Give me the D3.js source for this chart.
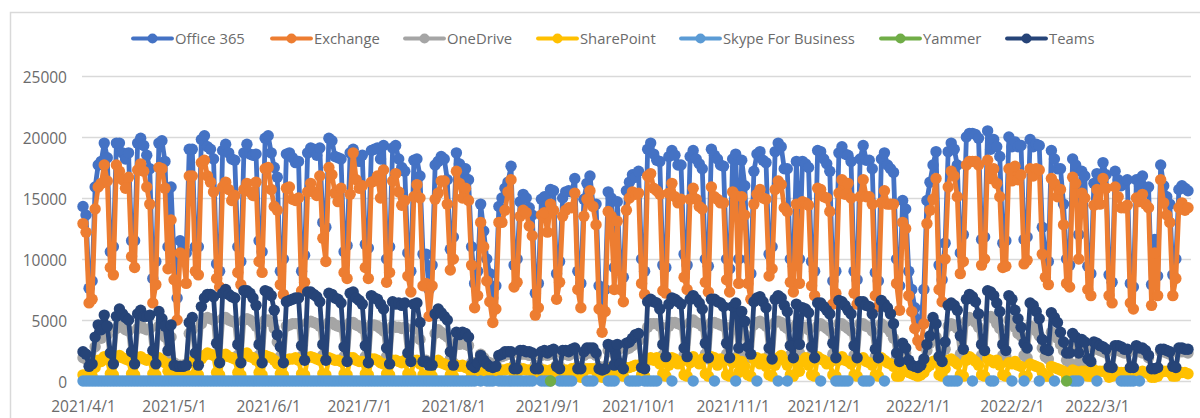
<!DOCTYPE html>
<html>
<head>
<meta charset="utf-8">
<script src="https://cdn.jsdelivr.net/npm/d3@7"></script>
<style>
  html, body { margin: 0; padding: 0; background: #fff; overflow: hidden; }
  text { font-family: "Open Sans", "Noto Sans", sans-serif; fill: #6b6b6b; }
</style>
</head>
<body>
<div id="container"></div>
<script>
// daily values from 2021/4/1, first row is Thu-Sun, then one row per Mon-Sun week
const startDate = '2021-04-01'
const yTicks = [0, 5000, 10000, 15000, 20000, 25000]
const xTicks = ['2021-04-01', '2021-05-01', '2021-06-01', '2021-07-01', '2021-08-01', '2021-09-01',
  '2021-10-01', '2021-11-01', '2021-12-01', '2022-01-01', '2022-02-01', '2022-03-01']

const office365 = [14300,13600,7600,8200,
  15900,17700,18000,19500,18300,10600,11000,
  19500,19500,18700,18200,18700,11500,11500,
  19500,19900,19300,18500,17400,8400,9800,
  19500,19700,18000,11000,15900,10000,6800,
  11500,11300,10500,19000,19000,11000,11000,
  19800,20100,19200,19000,18200,9600,9000,
  18900,19400,18700,18200,18100,11000,9800,
  18700,19400,18600,18500,18600,11500,10600,
  19900,20100,18700,17500,16700,9000,10000,
  18600,18700,18300,17900,18000,9000,10300,
  18700,19100,19000,18500,19100,13000,12600,
  19900,19700,18400,18300,18200,10600,11100,
  18700,19000,18400,18000,18500,11200,10900,
  18900,19000,19100,18200,19300,10000,11000,
  19100,19300,18200,17500,17200,10500,9000,
  18100,18200,16800,10400,10400,7500,9500,
  17700,18000,18400,18200,16500,10800,11800,
  18700,17800,16800,17400,16500,11000,8000,
  9000,14500,12300,10000,8800,6800,7800,
  14300,15000,15800,16300,17600,9500,10000,
  14700,15300,15000,14200,13600,7200,8000,
  14900,15100,14400,15700,15600,8800,9800,
  15000,15500,15600,15500,16600,9000,8000,
  14900,16200,16800,14500,14500,7800,6000,
  7500,15500,15000,9300,14700,9200,8500,
  15600,16300,16900,16700,17200,10000,9000,
  19000,19500,18600,18100,18000,9500,9300,
  18400,18900,18500,17700,17700,10400,9500,
  18400,18900,18200,17800,17400,10000,9400,
  19000,18500,18200,17700,17600,10000,9200,
  18200,18600,10000,18100,16000,10000,8800,
  17200,18600,18800,18100,17900,10400,11000,
  18800,19500,19200,17400,17400,10000,9400,
  18000,10000,18000,17800,17500,9800,9000,
  18900,18800,18200,17800,17200,8200,9000,
  18700,19200,18600,18500,18000,9000,8300,
  18200,19300,18100,18100,17400,8900,8200,
  18200,18700,17700,17400,17100,10000,7800,
  14800,14100,9000,7500,6000,5000,4700,
  7500,14800,16300,17700,18800,9500,8300,
  11300,18800,19500,19000,17700,10500,12000,
  20000,20300,20300,20200,19900,11600,11800,
  20500,19000,19800,19200,18400,11300,11500,
  20000,19200,19600,19200,19300,11600,11800,
  19800,19200,19400,19300,12600,10500,9800,
  18900,18200,17400,17400,14500,10000,9500,
  18200,17700,12000,17200,16800,9400,8800,
  16200,17000,16200,17900,16900,8700,8100,
  17200,16500,16000,16200,16500,8000,7700,
  16500,16000,16800,15500,15900,7900,11600,
  8600,17700,16000,15100,14500,8700,10000,
  15700,16000,15800,15600]

const exchange = [12900,12200,6400,6700,
  14100,15900,16200,17700,16400,9300,8700,
  17700,17200,16500,15800,16700,10200,9300,
  17300,17800,17200,15900,14500,6400,7900,
  17500,17400,15800,9200,13200,8300,5000,
  10500,10300,8000,16800,16800,9000,8700,
  17900,18100,16800,16300,15500,8400,7700,
  15900,16300,15700,14800,15200,8900,7900,
  15700,16200,15500,15200,16300,9800,8900,
  17400,17500,15700,14300,14000,7900,7100,
  15800,15900,14900,14800,15000,7400,8100,
  15500,16200,15500,15200,16800,11700,9800,
  17500,16900,15400,14700,15800,8900,8400,
  15300,18700,16500,15800,16000,9300,8400,
  16300,16400,16800,15000,17300,8100,8900,
  16400,17000,15500,14400,14800,8600,7300,
  15100,16100,15000,7800,8000,5300,7800,
  14900,15400,16400,16400,14500,9100,10000,
  17200,16200,15000,15800,14800,9500,6000,
  7000,13000,11000,8200,6500,4800,5900,
  13000,13000,14000,15500,16500,7700,8100,
  13500,14000,13800,12700,11900,5400,6000,
  13600,13800,12200,14500,14000,6700,8100,
  13500,14000,14200,14200,15400,7500,6000,
  13500,14900,15600,14300,12800,5900,4000,
  5700,13900,13500,7500,13100,7500,6500,
  14000,15000,15500,15300,15400,8000,7100,
  16800,17000,15800,15600,15300,7400,7200,
  15400,16200,15100,14600,14900,8500,7500,
  14900,15800,14900,14300,14100,8100,7300,
  15900,15100,14900,14600,14600,8300,7300,
  15500,15200,8000,15100,13600,8000,6700,
  14500,15300,15700,15000,14900,8600,9200,
  15700,16400,16100,14200,13900,8100,7300,
  14500,8000,14700,14600,14400,7800,7000,
  15800,15700,15100,15000,13900,6300,7200,
  15400,16500,15300,16200,15000,7200,6300,
  15100,16500,15100,15100,14500,7000,6100,
  14600,15600,14500,14500,14500,8000,5800,
  13000,12500,7000,5700,4300,3300,2900,
  4700,12900,14000,14900,16600,7500,6500,
  10000,15900,17200,16800,15100,8800,9800,
  17700,18000,18000,18000,17700,9500,10000,
  18100,16600,17400,16200,15100,9300,9400,
  17400,16400,17600,16500,16900,9600,9900,
  17400,16800,17400,17300,10400,8500,7900,
  16600,16200,15100,15700,12800,8000,7700,
  16700,16200,10000,15400,15000,7500,7000,
  14400,15700,14500,16600,15800,7000,6400,
  15900,15100,14200,14200,14400,6400,5900,
  15000,14700,15300,14500,14200,6200,10500,
  7000,16500,14600,13600,13000,7000,8400,
  14200,14600,14000,14200]

const oneDrive = [1900,1800,1500,1500,
  2800,3600,3500,4200,3800,1900,1600,
  4300,4700,4400,4200,4100,1900,1600,
  4300,4600,4300,4200,4300,1900,1600,
  4500,4200,3600,2000,3600,1500,1300,
  1300,1300,1400,3900,4200,1900,1600,
  4700,5100,5200,5100,5000,2100,1700,
  5100,5200,5000,4900,4800,2100,1700,
  5000,5100,5000,4800,4500,2100,1700,
  5000,5000,4800,4300,3200,2000,1700,
  4500,4600,4700,4700,4700,2000,1800,
  4800,4900,4800,4700,4500,2100,1800,
  4800,4800,4600,4500,4400,2000,1700,
  4800,4800,4600,4500,4300,2000,1700,
  4600,4600,4500,4300,4100,2000,1700,
  4500,4400,4400,4300,4400,1900,1800,
  4300,4300,3400,1700,1700,1500,1500,
  3900,4200,4000,3800,3600,1800,1500,
  3100,3000,3100,3000,2900,1500,1400,
  1600,2200,1900,1600,1500,1400,1400,
  2000,2000,2100,2200,2200,1300,1200,
  2200,2200,2200,2100,2100,1300,1200,
  2100,2200,2100,2200,2300,1300,1200,
  2200,2200,2100,2300,2300,1200,1200,
  2100,2300,2300,2300,2100,1200,1100,
  1200,2500,2400,1400,2500,1400,1200,
  2600,2700,2900,3100,3300,1400,1300,
  4400,4700,4700,4700,4500,2100,1800,
  4500,4800,4800,4700,4600,2100,1800,
  4800,5000,4800,4700,4500,2200,1800,
  4800,4800,4700,4600,4500,2200,1800,
  4500,4700,2200,4300,3800,2100,1900,
  4600,4800,4900,4700,4500,2100,1700,
  4800,4900,4800,4500,4300,2100,1700,
  4600,2300,4400,4400,4200,2100,1700,
  4500,4700,4500,4300,4100,2200,1700,
  4700,4700,4500,4300,4100,2100,1700,
  4700,4700,4500,4400,4100,2000,1700,
  4700,4500,4300,4000,3500,1900,1500,
  2700,2300,1600,1200,1100,1000,1100,
  1500,2500,3100,3900,3600,1800,1500,
  2600,4500,4700,4600,4300,2200,1900,
  4900,5200,5100,4800,4400,2100,2000,
  5300,5300,5100,4700,4300,2100,2000,
  5000,4800,4400,3900,3700,2100,1900,
  4500,4400,4100,3700,2700,2000,1800,
  4000,3800,3500,3000,2500,1700,1500,
  3000,2700,1500,2600,2600,1500,1400,
  2700,2600,2500,2400,2300,1000,1000,
  2500,2500,2400,2300,2300,900,1000,
  2500,2400,2300,2300,1900,900,1000,
  1000,2400,2400,2300,2200,1000,1000,
  2400,2400,2400,2300]

const sharePoint = [500,500,400,400,
  1100,1700,1600,2000,1800,600,500,
  1900,2100,1900,1800,1700,600,500,
  1900,2000,1800,1700,1800,600,500,
  1900,1700,1500,800,1400,500,400,
  400,400,500,1500,1600,600,500,
  1800,2100,2300,2200,2100,700,500,
  2000,2200,2000,1900,1800,700,500,
  2200,2300,2000,1900,1700,700,500,
  2100,2000,1900,1700,1400,600,500,
  1700,1800,1800,1900,1700,600,500,
  1900,2000,1900,1800,1700,600,500,
  1900,1800,1700,1700,1600,600,500,
  1900,1900,1700,1600,1600,600,500,
  1800,1800,1700,1500,1400,600,500,
  1700,1700,1600,1500,1700,600,500,
  1600,1700,1400,500,500,400,400,
  1500,1700,1500,1400,1300,500,400,
  1300,1200,1300,1100,1000,400,400,
  500,900,800,600,500,400,400,
  800,900,900,1000,1000,400,300,
  900,1000,900,900,800,400,300,
  900,900,800,900,1000,400,300,
  900,900,800,1000,1000,400,300,
  800,1000,1000,1000,800,400,300,
  400,1000,1000,500,1100,500,400,
  1100,1100,1200,1300,1300,500,400,
  1800,1900,1700,1900,1400,600,400,
  1300,1900,1800,1400,1600,500,400,
  1500,2000,1700,1400,1800,600,400,
  2000,1900,1300,1800,1600,500,400,
  1500,1800,700,1600,1200,500,400,
  1800,1900,1400,1800,1200,500,400,
  1300,1900,2100,1700,1300,500,400,
  1700,800,1600,1900,1300,500,400,
  2000,1800,1700,1400,1500,500,400,
  1700,2000,1700,1600,1400,500,400,
  1800,1900,1600,1500,1300,500,400,
  1900,1700,1500,1400,1200,400,400,
  1000,900,700,600,500,400,500,
  700,1100,1300,1600,1700,500,400,
  1000,1700,1800,1600,1400,500,400,
  1700,2000,1800,1600,1300,500,400,
  1800,1700,1500,1700,1300,500,400,
  1500,1400,1600,1300,1200,400,400,
  1400,1300,1200,1100,700,400,400,
  1200,1100,1000,900,800,400,400,
  900,800,500,800,800,400,400,
  900,800,800,800,700,300,400,
  800,700,700,700,700,300,300,
  700,700,800,700,600,300,300,
  400,700,800,800,700,400,400,
  700,700,700,600]

// days with a Skype reading, as [first, last] day numbers
const skypeRuns = [[0, 129], [131, 131], [133, 135], [137, 142], [143, 148], [151, 154], [157, 161],
  [166, 168], [173, 175], [180, 183], [185, 189], [194, 194], [201, 201], [208, 208], [215, 215],
  [222, 222], [229, 229], [232, 232], [243, 243], [248, 252], [257, 259], [264, 264], [285, 288],
  [293, 293], [299, 300], [306, 306], [310, 310], [315, 315], [320, 320], [326, 328], [334, 334],
  [342, 346], [348, 348]]
const yammerDays = [154, 324]

const teams = [2400,2200,1200,1400,
  3600,4600,4200,5400,4500,2300,1400,
  5300,5900,5500,5200,5000,2400,1400,
  5500,5800,5300,5300,5400,2500,1400,
  5700,5100,4500,2500,4600,1300,1200,
  1200,1200,1300,4800,5200,2300,1300,
  6100,6800,7100,7100,6900,3100,1500,
  7200,7500,7100,6900,6800,3000,1500,
  7400,7400,7200,6800,6200,3000,1500,
  7400,7300,7000,5800,3800,2800,1500,
  6500,6600,6700,6800,6800,2900,1700,
  7300,7300,7100,6900,6500,3000,1700,
  7200,7100,6800,6700,6400,2800,1600,
  7200,7300,6800,6600,6300,2900,1500,
  7000,6800,6700,6300,5900,2700,1400,
  6500,6300,6400,6200,6400,2300,1600,
  6300,6400,4800,1600,1600,1300,1300,
  5500,5900,5600,5300,5000,2400,1300,
  4000,3800,4000,3900,3600,1300,1100,
  1500,2100,1700,1400,1200,1100,1200,
  2100,2200,2400,2400,2400,1000,1000,
  2500,2500,2400,2400,2300,1000,1000,
  2400,2500,2300,2500,2600,1200,1000,
  2500,2500,2400,2600,2700,1000,1000,
  2400,2700,2700,2700,2300,1000,900,
  1000,3000,2900,1300,3000,1400,1000,
  3100,3200,3500,3800,3900,1100,1000,
  6500,6700,6500,6400,5900,3000,2000,
  6300,6800,6700,6500,6300,2700,2000,
  6700,7000,6700,6400,5900,3100,1900,
  6700,6700,6500,6400,6100,3100,1900,
  6100,6400,2700,5700,4900,2800,2200,
  6500,6800,6900,6500,6000,2700,1800,
  6700,7000,6800,6200,5700,2900,1900,
  6300,3000,6000,5900,5600,2800,1900,
  6400,6400,6100,5800,5500,3100,1900,
  6600,6500,6200,5800,5500,2900,1900,
  6500,6500,6200,6100,5500,2600,1900,
  6600,6300,6000,5500,4700,2300,1600,
  3100,2700,1700,1300,1200,1100,1300,
  1800,3000,3700,5200,4700,2000,1600,
  3200,6200,6400,6200,5800,3700,2600,
  6700,7100,6900,6500,5500,3000,2500,
  7400,7300,7000,6400,5700,3000,2500,
  7000,6700,5800,5100,4400,3100,2700,
  6400,6200,5700,5100,3400,2600,2500,
  5600,5200,4800,4000,3200,2300,2300,
  3900,3600,2300,3400,3200,1800,1600,
  3200,3100,2900,2800,2600,1150,1100,
  2900,2900,2800,2600,2600,1100,1100,
  2900,2700,2700,2500,2100,1000,1000,
  1100,2600,2600,2500,2400,1200,1100,
  2700,2700,2600,2600]

const seriesNames = ['Office 365', 'Exchange', 'OneDrive', 'SharePoint', 'Skype For Business', 'Yammer', 'Teams']
const seriesColors = ['#4472c4', '#ed7d31', '#a5a5a5', '#ffc000', '#5b9bd5', '#70ad47', '#264478']
const legendX = [132, 271, 404, 537, 680, 880, 1006]

const w = 1200
const h = 418
const parseDay = d3.utcParse('%Y-%m-%d')
const start = parseDay(startDate)
const dayCount = office365.length

// sparse series become full length arrays with gaps
const skype = new Array(dayCount).fill(null)
skypeRuns.forEach(r => { for (let i = r[0]; i <= r[1]; i++) skype[i] = 0 })
const yammer = new Array(dayCount).fill(null)
yammerDays.forEach(i => { yammer[i] = 0 })

const allSeries = [office365, exchange, oneDrive, sharePoint, skype, yammer, teams]

const x = d3.scaleUtc()
  .domain([start, d3.utcDay.offset(start, 364)])
  .range([83, 1188])

const y = d3.scaleLinear()
  .domain([0, 25000])
  .range([381, 76])

const svg = d3.select('#container')
  .append('svg')
  .attr('width', w)
  .attr('height', h)
  .style('display', 'block')

// chart area border, runs off the picture at right and bottom
svg.append('path')
  .attr('d', 'M10.5,418V12.5H1200')
  .attr('fill', 'none')
  .attr('stroke', '#d9d9d9')
  .attr('stroke-width', 1.5)

// gridlines and y labels
const yAxis = svg.append('g')
  .attr('transform', 'translate(82,0)')
  .call(d3.axisLeft(y).tickValues(yTicks).tickSize(-1109).tickPadding(15).tickFormat(d => d))
yAxis.select('.domain').remove()
yAxis.selectAll('line').attr('stroke', '#d9d9d9').attr('stroke-width', 1.5)
yAxis.selectAll('text').attr('font-size', 15.5).attr('fill', '#6b6b6b').attr('y', 1.5)

const xAxis = svg.append('g')
  .attr('transform', 'translate(0,381)')
  .call(d3.axisBottom(x)
    .tickValues(xTicks.map(parseDay))
    .tickSize(0)
    .tickPadding(20)
    .tickFormat(d3.utcFormat('%Y/%-m/%-d')))
xAxis.select('.domain').remove()
xAxis.selectAll('text').attr('font-size', 15.5).attr('fill', '#6b6b6b')

const line = d3.line()
  .defined(d => d !== null)
  .x((d, i) => x(d3.utcDay.offset(start, i)))
  .y(d => y(d))

allSeries.forEach((values, s) => {
  const g = svg.append('g')
  g.append('path')
    .attr('d', line(values))
    .attr('fill', 'none')
    .attr('stroke', seriesColors[s])
    .attr('stroke-width', 4.8)
    .attr('stroke-linejoin', 'round')
    .attr('stroke-linecap', 'round')
  g.selectAll('circle')
    .data(values.map((v, i) => [v, i]).filter(d => d[0] !== null))
    .enter()
    .append('circle')
    .attr('cx', d => x(d3.utcDay.offset(start, d[1])))
    .attr('cy', d => y(d[0]))
    .attr('r', 5.7)
    .attr('fill', seriesColors[s])
})

// legend
const legend = svg.selectAll('.legend')
  .data(seriesNames)
  .enter()
  .append('g')
  .attr('class', 'legend')
  .attr('transform', (d, i) => `translate(${legendX[i]},38.5)`)
legend.append('line')
  .attr('x1', 1).attr('x2', 40)
  .attr('stroke', (d, i) => seriesColors[i])
  .attr('stroke-width', 3.8)
  .attr('stroke-linecap', 'round')
legend.append('circle')
  .attr('cx', 20.5)
  .attr('r', 5)
  .attr('fill', (d, i) => seriesColors[i])
legend.append('text')
  .attr('x', 43)
  .attr('dy', '0.35em')
  .attr('font-size', 14.8)
  .text(d => d)
</script>
</body>
</html>
